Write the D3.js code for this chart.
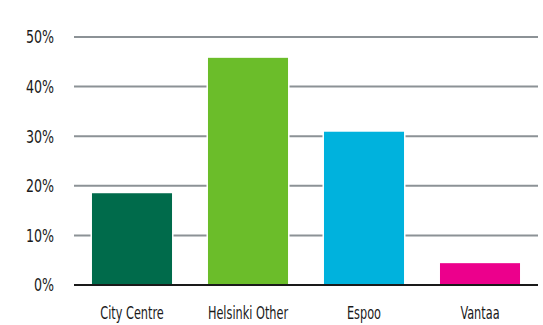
<!DOCTYPE html>
<html>
<head>
<meta charset="utf-8">
<script src="https://cdn.jsdelivr.net/npm/d3@7"></script>
<style>
  html, body { margin: 0; padding: 0; background: #fff; }
  #bar-chart svg { display: block; }
  .axis-label { font-family: "DejaVu Sans Condensed", "DejaVu Sans", sans-serif; font-stretch: condensed; fill: #1a1a1a; }
</style>
</head>
<body>
<div id="bar-chart"></div>
<script>
// Share of respondents by area
const areas = ["City Centre", "Helsinki Other", "Espoo", "Vantaa"];
const shares = [18.5, 45.8, 30.9, 4.4];
const barColors = ["#006b4b", "#6bbd2a", "#00b2dd", "#ec008c"];
const yTicks = [0, 10, 20, 30, 40, 50];

(function () {
  const W = 543, H = 325;
  const margin = { top: 37, right: 5, bottom: 40, left: 74 };

  const svg = d3.select("#bar-chart")
    .append("svg")
    .attr("width", W)
    .attr("height", H);

  const x = d3.scaleBand()
    .domain(areas)
    .range([margin.left, W - margin.right])
    .paddingInner(0.31)
    .paddingOuter(0.155);

  const y = d3.scaleLinear()
    .domain([0, 50])
    .range([H - margin.bottom, margin.top]);

  // Gridlines (drawn first so the bars' white outline cuts a gap into them)
  svg.append("g")
    .selectAll("line")
    .data(yTicks.filter(t => t > 0))
    .enter()
    .append("line")
    .attr("x1", margin.left)
    .attr("x2", W - margin.right)
    .attr("y1", d => y(d))
    .attr("y2", d => y(d))
    .attr("stroke", "#8c9296")
    .attr("stroke-width", 2);

  // Y tick labels - squeezed horizontally to mimic the narrow original face
  svg.append("g")
    .selectAll("text")
    .data(yTicks)
    .enter()
    .append("text")
    .attr("class", "axis-label")
    .attr("transform", d => `translate(54,${y(d)}) scale(0.78,1)`)
    .attr("dy", "0.36em")
    .attr("text-anchor", "end")
    .style("font-size", "18px")
    .text(d => d + "%");

  // Bars
  const data = areas.map((a, i) => ({ name: a, value: shares[i], color: barColors[i] }));

  svg.append("g")
    .selectAll("rect")
    .data(data)
    .enter()
    .append("rect")
    .attr("x", d => x(d.name))
    .attr("width", x.bandwidth())
    .attr("y", d => y(d.value))
    .attr("height", d => y(0) - y(d.value))
    .attr("fill", d => d.color)
    .attr("stroke", "#fff")
    .attr("stroke-width", 3);

  // Re-draw bars on top without stroke so the fill keeps its full size
  svg.append("g")
    .selectAll("rect")
    .data(data)
    .enter()
    .append("rect")
    .attr("x", d => x(d.name))
    .attr("width", x.bandwidth())
    .attr("y", d => y(d.value))
    .attr("height", d => y(0) - y(d.value))
    .attr("fill", d => d.color);

  // Baseline
  svg.append("line")
    .attr("x1", margin.left)
    .attr("x2", W - margin.right)
    .attr("y1", y(0))
    .attr("y2", y(0))
    .attr("stroke", "#1a1a1a")
    .attr("stroke-width", 2);

  // Category labels
  svg.append("g")
    .selectAll("text")
    .data(areas)
    .enter()
    .append("text")
    .attr("class", "axis-label")
    .attr("transform", d => `translate(${x(d) + x.bandwidth() / 2},319) scale(0.74,1)`)
    .attr("text-anchor", "middle")
    .style("font-size", "17px")
    .text(d => d);
})();
</script>
</body>
</html>
